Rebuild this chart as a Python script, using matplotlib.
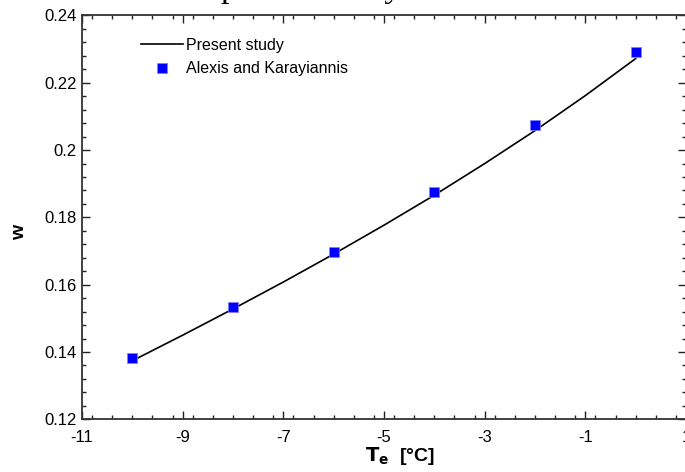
import numpy as np
import matplotlib.pyplot as plt
from matplotlib.ticker import MultipleLocator, FormatStrFormatter

plt.rcParams['font.family'] = ['Liberation Sans', 'DejaVu Sans']

# Present study (model curve)
te_model = [-10, -9, -8, -7, -6, -5, -4, -3, -2, -1, 0]
w_model = [0.1374, 0.1450, 0.1528, 0.1608, 0.1691, 0.1777, 0.1866, 0.1960, 0.2058, 0.2162, 0.2272]

# Alexis and Karayiannis (data points)
te_exp = [-10, -8, -6, -4, -2, 0]
w_exp = [0.1381, 0.1535, 0.1696, 0.1875, 0.2074, 0.2292]

x_ticks = [-11, -9, -7, -5, -3, -1, 1]
y_ticks = [0.12, 0.14, 0.16, 0.18, 0.20, 0.22, 0.24]

fig = plt.figure(figsize=(6.85, 4.72), dpi=100)
ax = fig.add_axes([0.1197, 0.1116, 0.8818, 0.8556])

ax.plot(te_model, w_model, color='black', lw=1.2, label='Present study')
ax.plot(te_exp, w_exp, ls='none', marker='s', ms=6.5, mfc='#0000ff',
        mec='#8080ff', mew=0.5, label='Alexis and Karayiannis')

ax.set_xlim(-11, 1)
ax.set_ylim(0.12, 0.24)
ax.set_xticks(x_ticks)
ax.set_yticks(y_ticks)
ax.xaxis.set_minor_locator(MultipleLocator(0.4))
ax.yaxis.set_minor_locator(MultipleLocator(0.004))
ax.yaxis.set_major_formatter(FormatStrFormatter('%g'))
ax.xaxis.set_major_formatter(FormatStrFormatter('%g'))

ax.tick_params(which='both', direction='in', top=True, right=True,
               labelsize=12, width=1.0, color='#222222')
ax.tick_params(which='major', length=6)
ax.tick_params(axis='y', which='major', pad=4)
ax.tick_params(axis='x', which='major', pad=8)
ax.tick_params(which='minor', length=3)
for s in ax.spines.values():
    s.set_linewidth(1.3)
    s.set_color('#333333')

ax.set_xlabel(r'$\mathbf{T_e}$  [°C]', fontsize=14, fontweight='bold')
ax.set_ylabel('w', fontsize=14, fontweight='bold')
ax.xaxis.set_label_coords(0.527, -0.063)
ax.yaxis.set_label_coords(-0.090, 0.464)

ax.legend(loc='upper left', bbox_to_anchor=(0.098, 0.945), frameon=False,
          fontsize=11.5, handlelength=2.6, handletextpad=0.2,
          labelspacing=0.55, borderpad=0, borderaxespad=0)

# title clipped at the top of the picture, only descenders visible
fig.text(221 / 685, 1.0 + 3 / 472, 'present study', family='Liberation Serif',
         fontsize=24.5, ha='left', va='baseline')

fig.savefig('out.png', dpi=100)
